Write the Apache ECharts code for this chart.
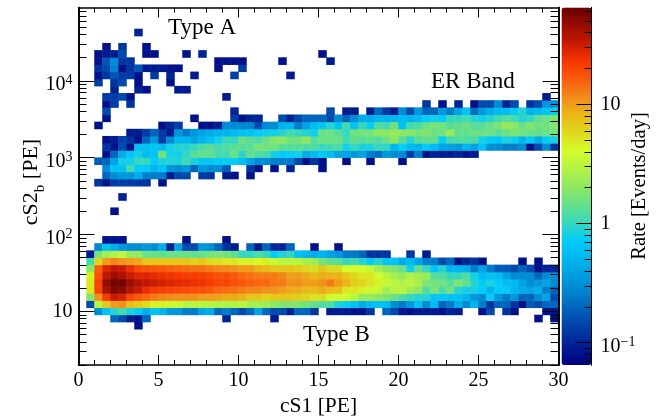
<!DOCTYPE html>
<html>
<head>
<meta charset="utf-8">
<style>html,body{margin:0;padding:0;background:#fff}#main{width:662px;height:420px}</style>
<script src="https://cdn.jsdelivr.net/npm/echarts@6/dist/echarts.min.js"></script>
</head>
<body>
<div id="main"></div>
<script>
// 60 cS1 bins over 0-30 PE, 50 log bins over 2-90000 PE
var xBinCount = 60;
var yBinCount = 50;
var xRange = [0, 30];
var yRange = [2, 90000];
var rateRange = [0.065, 65];

var yMajorTicks = [10, 100, 1000, 10000];
var yMinorTicks = [2, 3, 4, 5, 6, 7, 8, 9, 20, 30, 40, 50, 60, 70, 80, 90, 200, 300, 400, 500, 600, 700, 800, 900,
	2000, 3000, 4000, 5000, 6000, 7000, 8000, 9000, 20000, 30000, 40000, 50000, 60000, 70000, 80000];
var rateMajorTicks = [0.1, 1, 10];
var rateMinorTicks = [0.07, 0.08, 0.09, 0.2, 0.3, 0.4, 0.5, 0.6, 0.7, 0.8, 0.9, 2, 3, 4, 5, 6, 7, 8, 9, 20, 30, 40, 50, 60];

// [y bin, first x bin, rates...], 0 = empty bin
var typeBRows = [
	[5, 7, .08],
	[6, 4, .2, .15, .09, .08, .2, 0, 0, 0, 0, 0, 0, 0, 0, 0, .1, 0, 0, 0, 0, 0, .09],
	[6, 57, .08, 0, .08],
	[7, 2, .3, .6, .9, 1.1, .85, .7, .45, .6, .5, .35, .35, .25, .25, .4, .45, .2, .25, .2, .15, .2, .4, .2, .15, .15, .1, .2, .2, .12, 0,
		.09, .09, .09, .08, .08, .12, 0, .2, .15, .09, .08, .09, .09, .09, .08, .1, .09, 0, 0, .08, .15, 0, .12, .08, 0, 0, 0, .08, .08],
	[8, 1, .15, 3, 7, 10, 11, 7.5, 6.5, 5.5, 4.5, 4.5, 3.8, 3.6, 3, 3, 3, 3, 2.8, 2.8, 2.8, 3, 2.5, 2.5, 2.3, 2, 1.8, 1.8, 1.8, 1.6, 1.4,
		1.2, 1.2, .85, .75, .6, .45, .55, .6, .55, .3, .25, .35, .6, .3, .55, .2, .25, .45, .3, .5, .25, .12, .2, .2, .12, .08, .18, .15, .2, .2],
	[9, 1, 1.9, 11, 22, 32, 30, 20, 17, 15, 13, 12, 11.5, 11, 11, 11, 10, 10, 9.5, 9, 9, 8.5, 7, 7, 6, 7, 7, 7, 6.5, 6, 5.2,
		5.5, 4, 4, 4, 3, 2.2, 2.2, 2, 1.8, 1.5, 1.2, 1, .9, .9, .65, .65, .6, .6, .5, .35, .3, .7, .35, .25, .35, .2, .2, .3, .4, .15],
	[10, 1, 5, 20, 40, 55, 50, 38, 32, 25, 22, 21, 20, 19, 19, 18, 18, 17, 15, 14, 14, 13, 12, 12, 11, 11, 10, 9, 9, 8, 8,
		9, 8, 7.5, 5, 5, 4.5, 3.8, 3.5, 2.5, 3, 3, 2.3, 2, 1.2, 1.7, 1.2, 1.6, .9, .8, .8, .7, .5, .7, .7, .5, .45, .4, .45, .25, .2],
	[11, 1, 5, 20, 48, 60, 62, 45, 38, 35, 32, 30, 28, 27, 26, 25, 24, 22, 20, 20, 18, 17, 16, 15, 15, 13, 13, 11, 11, 10, 10,
		11, 13, 10, 8.5, 6.5, 6, 5, 4.5, 3.6, 3, 2.8, 3.2, 2.6, 1.8, 1.6, 1.6, 1.3, 1.8, 1.4, .9, .7, .85, .7, .55, .55, .4, .3, .35, .4, .3],
	[12, 1, 4.5, 18, 35, 45, 40, 32, 28, 28, 26, 25, 24, 23, 22, 22, 21, 20, 18, 18, 17, 15, 14, 13, 13, 13, 12, 10, 10, 9, 8,
		9, 8.5, 8.5, 7, 6, 5, 5, 4, 3, 2.5, 2.2, 2.8, 2.4, 2.2, 1.3, 1.2, 1, 1, 1.2, .8, .55, .6, .55, .4, .3, .3, .3, .2, .3, .3],
	[13, 1, 2, 16, 28, 35, 32, 25, 19, 18, 17, 17, 16, 15, 14.5, 14, 14, 13, 12, 12, 11, 10, 10, 8.5, 8, 7, 7, 7, 6.5, 6, 5.5,
		7, 5.5, 5.5, 4, 4, 4, 3.5, 2.5, 2, 1.8, 1.5, .8, 1.4, 1, .65, .9, .5, .5, .45, .25, .4, .25, .18, .18, .15, .2, .15, .08, .1, .1],
	[14, 1, 1.1, 6, 10, 12, 10.5, 10, 9, 7, 7, 7, 7, 7, 7, 6, 7, 5.5, 5.5, 5, 5, 4.5, 4.5, 4.2, 4.5, 3.5, 3.2, 3, 3, 2.6, 2.4,
		1.6, 1.4, 1.3, 1, 1.1, .9, .7, .9, .65, .65, .45, .55, .4, .25, .25, .15, .2, .08, .1, .12, .08, 0, 0, 0, 0, .08, 0, .08],
	[15, 1, .09, 1.7, 2.5, 2.8, 3.2, 2.2, 2.2, 1.5, 1.5, 1.4, 1.5, 1.5, 1.5, 1.4, 1.5, 1.6, 1.8, 1.6, 1.4, 1, 1, 1.2, 1, .7, .9, 1, .6, .5, .45,
		.5, .4, .35, .25, .25, .2, .12, .12, .12, 0, 0, .12, 0, .09],
	[16, 2, .3, .6, .45, .35, .3, .3, .35, .3, .45, .1, .4, .15, .15, .35, .3, .2, .12, .09, 0, .2, .09, .2, .1, .1, .2, 0, 0, .08, 0, 0, .08],
	[17, 3, .08, .08, .08, 0, 0, 0, 0, 0, 0, 0, .08, 0, 0, 0, 0, .08],
	[21, 4, .08],
	[23, 5, .1]
];

var erBandRows = [
	[25, 2, .12, .08, .13, .13, .13, .12, .12, 0, .08],
	[26, 3, .2, .3, .35, .35, .45, .25, .25, .25, .09, .15, .15, 0, .13, .12, 0, .09, .08, 0, .08],
	[27, 3, .3, .6, .6, 1.1, .7, .7, .5, .65, .35, .3, .35, .2, .35, .3, .3, .18, 0, 0, .12, .08, 0, .08, 0, .1, 0, 0, 0, .08],
	[28, 2, .18, .2, .4, .8, .8, 1, 1, .7, .85, .9, .85, 1.1, .85, .65, .65, .7, .75, .7, .55, .4, .3, .3, .25, .25, .25, .15, .08, .12,
		.08, 0, 0, .08, 0, 0, .08, 0, 0, 0, .08],
	[29, 3, .08, .2, .45, .65, .8, .55, .65, 1.6, .8, .8, .95, 1.3, 1.4, 1.4, 1.1, 1.1, 1.5, .95, 1.4, 1.2, 1.1, .8, .7, .75, .8, .45, .55,
		.7, .55, .4, .4, .35, .4, .25, .22, .35, .3, .3, .13, .25, .08, .1, .09, .09, .1, .08, .09],
	[30, 3, .12, .08, .15, .08, .6, .6, .65, .55, .8, .9, .9, 1, 1.2, 1.3, 1.1, 1.2, 1.3, 1.3, 1.3, 1.7, 1.6, 1.6, 1.3, 1.3, 1.3, 1.2, 1.2,
		1, 1.1, 1.2, .8, 1, .85, .85, 1, .95, .5, .75, .55, .5, .7, .55, .4, .4, .35, .5, .4, .6, .3, .3, .25, .25, .3, .08, .15, .3, .12],
	[31, 3, .08, .09, .14, .12, .08, .2, .35, .13, .3, .5, .5, .4, .5, .6, .8, 1, 1, 1.5, 1.3, 1.2, 1.5, 1.9, 2, 1.6, 1.6, 2, 1.3,
		1.5, 1.5, 1.5, 1.1, 1.4, 1.3, 1.4, 1.2, 1.5, 2, 1.3, .9, 1.3, 1.4, 1.4, .75, 1.1, 1.2, 1.2, 1.2, .8, .7, .65, .85, .75, .5, .7, .45, .7, .8],
	[32, 6, .09, .09, .13, .2, .13, .09, .35, .25, .35, .4, .45, .5, .5, .55, .6, .65, .7, .8, .8, .9, 1.1, 1, .9, .8,
		1.5, 1.5, 1.3, 1, 1.6, 1.6, 1.7, 2, 2, 2.1, 2, 1.9, 1.7, 1.8, 1.5, 1.6, 2.2, 1.4, 1.4, 1.5, 1.5, 1.5, 1.3, 1.5, 1.7, 1.6, 1.5, 1.4, 1.5, 1.6],
	[33, 2, .08, 0, 0, 0, 0, 0, 0, 0, .08, .1, .13, 0, 0, .08, .08, .09, .3, .3, .28, .28, .15, .3, .3, .5, .5, .25, .4, .55,
		.65, .9, .65, 1.1, .6, 1, .75, 1.2, 1.1, 1.6, .6, 1.1, 1.2, 1.5, 1.7, 1.6, 1.3, 1.4, 1.5, 1.3, 1.3, 1.5, 1.8, 2.2, 2, 1.5, 1.8, 1.6, 1.6, 1.8],
	[34, 3, .08, 0, 0, 0, 0, 0, 0, 0, 0, 0, 0, .08, 0, 0, 0, 0, .13, .08, .1, .1, 0, 0, .15, .1, .15, .2, .2,
		.2, .15, .3, .2, .3, .45, .45, .5, .5, .5, .55, .5, .55, .7, .8, .7, 1, 1, 1.1, .9, .8, .9, 1.1, 1.3, 1.1, .9, 1, 1.4, 1.5, 1.8],
	[35, 3, .15, 0, 0, 0, 0, 0, 0, 0, 0, 0, 0, 0, 0, 0, 0, 0, .1, 0, 0, 0, 0, 0, 0, 0, 0, 0, 0,
		0, .15, 0, .09, .09, 0, .09, .2, .12, .09, .3, .15, .35, .2, .2, .35, .25, .4, .6, .22, .35, .45, .55, .55, .7, .9, .5, .55, .65, .7],
	[36, 3, .08, .13, 0, .12],
	[36, 43, .12, 0, .08, 0, .1, 0, .08, .15, .15, .3, .1, .15, 0, .12, .15, .35, .3]
];

var typeARows = [
	[37, 3, .13, .13, .15, .08, 0, 0, 0, 0, 0, 0, 0, 0, 0, 0, 0, .09],
	[37, 58, .09],
	[38, 4, .1, 0, 0, .1, .08, 0, 0, 0, .09, .09],
	[39, 2, .13, 0, .12, .15, 0, .08, 0, 0, 0, .08],
	[40, 2, .08, .12, .17, .13, .13, .08, 0, .13, 0, .1, 0, 0, .09, 0, 0, 0, 0, .13, 0, 0, 0, 0, 0, 0, .09],
	[41, 2, .12, .15, .28, .08, .12, .17, .09, .09, .09, .08, .08, 0, 0, 0, 0, .08, 0, 0, .13],
	[42, 2, .08, .17, .3, .12, .12, 0, 0, 0, 0, 0, 0, 0, 0, 0, 0, .08, .08, .08, .08, 0, 0, 0, 0, .08, 0, 0, 0, 0, 0, .09],
	[43, 2, .08, .09, .09, .15, 0, 0, .08, .08, 0, 0, 0, .08, 0, .1, 0, 0, 0, 0, 0, 0, 0, 0, 0, 0, 0, 0, 0, 0, .08],
	[44, 3, .08, 0, .12, 0, 0, .08],
	[46, 7, .1]
];

var paletteColors = ['#00007f', '#001c90', '#003ca5', '#005cb8', '#0080cc', '#009cdf', '#00b8f0', '#04ccf8', '#3cd8b8', '#66e08a', '#90e860',
	'#b4f444', '#d4fc28', '#dfd81e', '#eab818', '#f28a1c', '#fa5a0c', '#f53600', '#c81a02', '#980c00', '#6a0000'];

var fontName = '"Liberation Serif", serif';
var tickFontSize = 20;
var supRich = {
	b: { fontFamily: fontName, fontSize: tickFontSize, color: '#000' },
	p: { fontFamily: fontName, fontSize: tickFontSize, color: '#000', lineHeight: 30, verticalAlign: 'middle', padding: [8, 0, 0, 0] },
	s: { fontFamily: fontName, fontSize: 14, color: '#000', lineHeight: 30, verticalAlign: 'top', padding: [8, 0, 0, 0] }
};

var xCategories = [];
for (var i = 0; i < xBinCount; i++) xCategories.push(i);
var yCategories = [];
for (var j = 0; j < yBinCount; j++) yCategories.push(j);

var cells = [];
typeBRows.concat(erBandRows, typeARows).forEach(function (row) {
	for (var n = 2; n < row.length; n++) {
		if (row[n] > 0) cells.push([row[1] + n - 2, row[0], row[n], Math.log10(row[n])]);
	}
});

function powerLabel(v) {
	var p = Math.round(Math.log10(v));
	if (p === 0) return '{b|1}';
	if (p === 1) return '{b|10}';
	return '{p|10}{s|' + String(p).replace('-', '\u2212') + '}';
}

var frameLine = { show: true, onZero: false, lineStyle: { color: '#000', width: 1.6 } };
var plotRect = { left: 78.5, top: 7.5, width: 480, height: 357.5 };

function cS1Axis(position, showLabels) {
	return {
		type: 'value', gridIndex: 1, position: position, min: xRange[0], max: xRange[1], interval: 5, z: 5,
		splitLine: { show: false },
		axisLine: frameLine,
		axisTick: { show: true, inside: true, length: 10, lineStyle: { color: '#000', width: 1 } },
		minorTick: { show: true, splitNumber: 5, length: 5, lineStyle: { color: '#000', width: 1 } },
		axisLabel: { show: showLabels, margin: 6, fontFamily: fontName, fontSize: tickFontSize, color: '#000' }
	};
}

function logAxis(gridIndex, position, range, ticks, tickLength, labels, lineStyle) {
	return {
		type: 'log', gridIndex: gridIndex, position: position, min: range[0], max: range[1], z: 5,
		splitLine: { show: false },
		axisLine: lineStyle,
		axisTick: { show: true, inside: true, length: tickLength, customValues: ticks, lineStyle: { color: '#000', width: 1 } },
		minorTick: { show: false },
		axisLabel: labels ? {
			show: true, customValues: ticks, margin: labels, formatter: powerLabel,
			showMinLabel: true, showMaxLabel: true, rich: supRich
		} : { show: false }
	};
}

var barLine = { show: true, onZero: false, lineStyle: { color: '#000', width: 1 } };
var titleRich = {
	m: { fontFamily: fontName, fontSize: 22, fill: '#000', lineHeight: 34, verticalAlign: 'middle' },
	s: { fontFamily: fontName, fontSize: 15, fill: '#000', lineHeight: 34, verticalAlign: 'bottom' }
};

var option = {
	animation: false,
	backgroundColor: '#fff',
	textStyle: { fontFamily: fontName },
	grid: [
		Object.assign({}, plotRect),
		Object.assign({}, plotRect),
		{ left: 561.5, top: 7.5, width: 30, height: 357.5 }
	],
	xAxis: [
		{ type: 'category', gridIndex: 0, data: xCategories, show: false },
		cS1Axis('bottom', true),
		cS1Axis('top', false),
		{ type: 'value', gridIndex: 2, min: 0, max: 1, show: false }
	],
	yAxis: [
		{ type: 'category', gridIndex: 0, data: yCategories, show: false },
		logAxis(1, 'left', yRange, yMajorTicks, 16, 6, frameLine),
		logAxis(1, 'left', yRange, yMinorTicks, 8, 0, frameLine),
		logAxis(1, 'right', yRange, yMajorTicks, 16, 0, frameLine),
		logAxis(1, 'right', yRange, yMinorTicks, 8, 0, frameLine),
		logAxis(2, 'right', rateRange, rateMajorTicks, 15, 9, barLine),
		logAxis(2, 'right', rateRange, rateMinorTicks, 7, 0, barLine)
	],
	visualMap: {
		type: 'continuous',
		seriesIndex: 0,
		dimension: 3,
		min: Math.log10(rateRange[0]),
		max: Math.log10(rateRange[1]),
		calculable: false,
		hoverLink: false,
		showLabel: false,
		text: null,
		left: 561.5,
		top: 7.5,
		padding: 0,
		itemWidth: 30,
		itemHeight: 357.5,
		inRange: { color: paletteColors }
	},
	series: [{
		type: 'heatmap',
		xAxisIndex: 0,
		yAxisIndex: 0,
		data: cells,
		encode: { x: 0, y: 1 },
		silent: true,
		progressive: 0,
		itemStyle: { borderWidth: 0 }
	}],
	graphic: [
		{ type: 'text', left: 280, top: 395, style: { text: 'cS1 [PE]', font: '21.5px ' + fontName, fill: '#000' } },
		{ type: 'text', x: 31, y: 182, rotation: Math.PI / 2, style: {
			text: '{m|cS2}{s|b}{m| [PE]}', align: 'center', verticalAlign: 'middle', rich: titleRich
		} },
		{ type: 'text', x: 640, y: 186, rotation: Math.PI / 2, style: {
			text: 'Rate [Events/day]', font: '20.5px ' + fontName, fill: '#000', align: 'center', verticalAlign: 'middle'
		} },
		{ type: 'text', left: 168, top: 16, style: { text: 'Type A', font: '23px ' + fontName, fill: '#000' } },
		{ type: 'text', left: 431, top: 70, style: { text: 'ER Band', font: '23px ' + fontName, fill: '#000' } },
		{ type: 'text', left: 303, top: 323, style: { text: 'Type B', font: '23px ' + fontName, fill: '#000' } }
	]
};

var myChart = echarts.init(document.getElementById('main'), null, { renderer: 'canvas' });
myChart.setOption(option);
</script>
</body>
</html>
